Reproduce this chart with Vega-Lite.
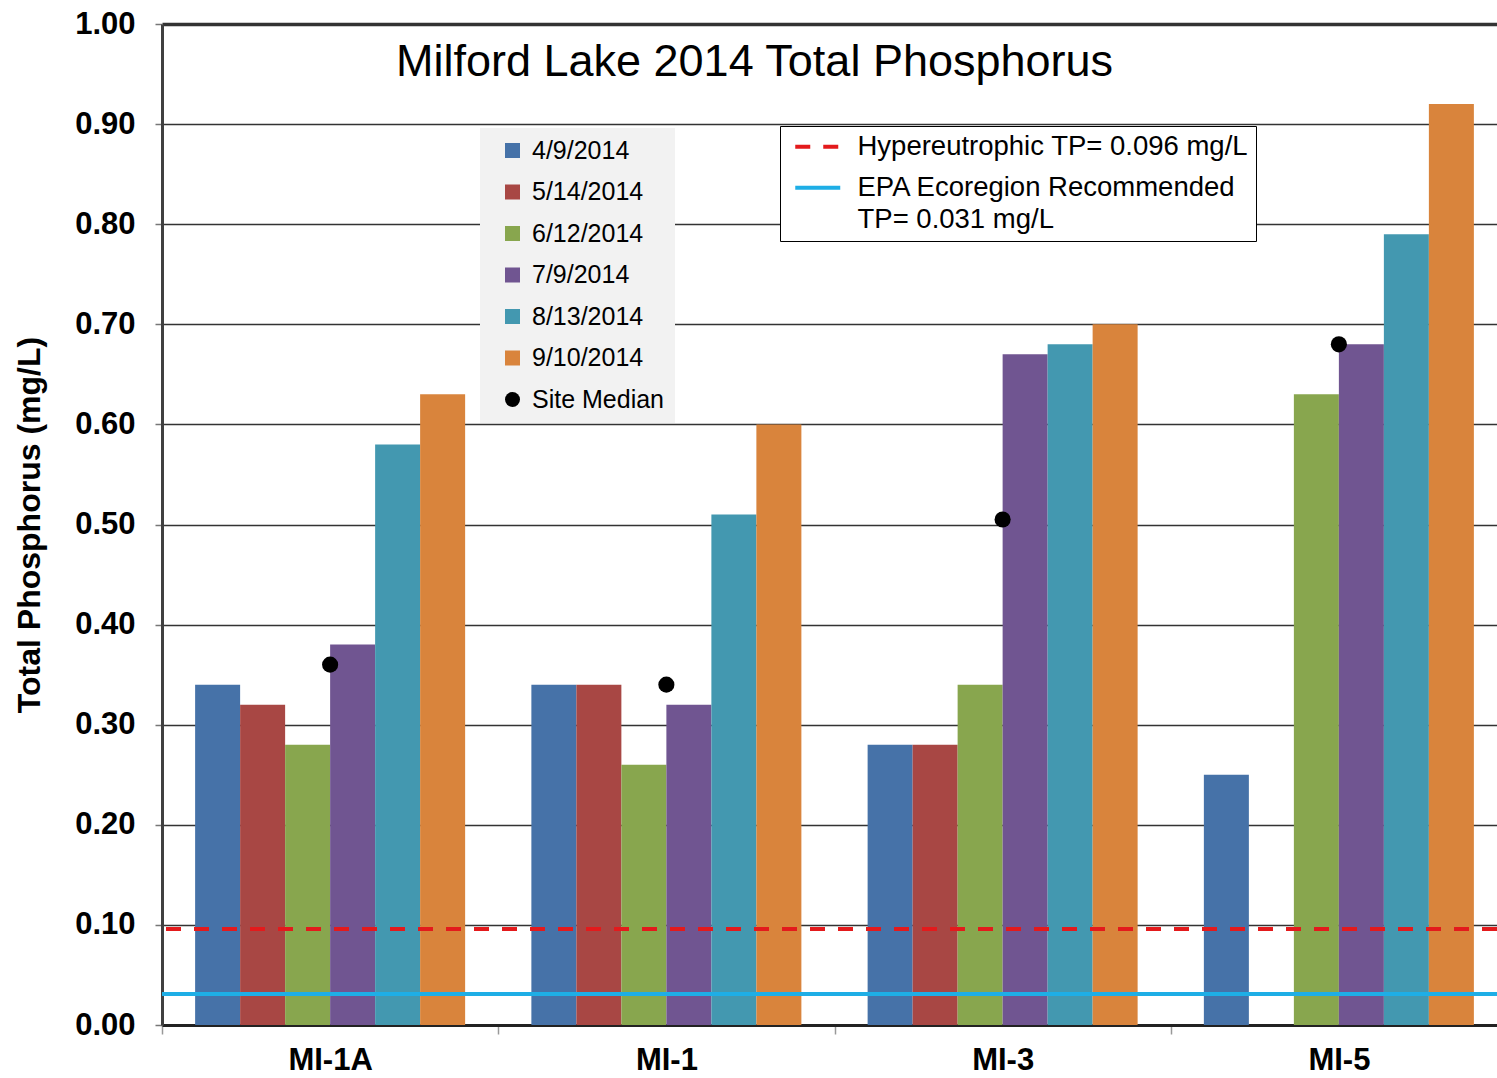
{
  "$schema": "https://vega.github.io/schema/vega-lite/v6.json",
  "width": 1335,
  "height": 1001,
  "autosize": {"type": "none"},
  "padding": {"left": 162, "top": 24, "right": 0, "bottom": 53},
  "background": "white",
  "config": {
    "font": "Liberation Sans",
    "view": {"stroke": null},
    "legend": {"labelFont": "Liberation Sans", "labelColor": "black"}
  },
  "title": {
    "text": "Milford Lake 2014 Total Phosphorus",
    "font": "Liberation Sans",
    "fontSize": 45,
    "fontWeight": "normal",
    "color": "black",
    "anchor": "middle",
    "frame": "group",
    "offset": -77,
    "dx": -75
  },
  "datasets": {
    "samples": [
      {"site": "MI-1A", "series": "4/9/2014", "tp": 0.34},
      {"site": "MI-1A", "series": "5/14/2014", "tp": 0.32},
      {"site": "MI-1A", "series": "6/12/2014", "tp": 0.28},
      {"site": "MI-1A", "series": "7/9/2014", "tp": 0.38},
      {"site": "MI-1A", "series": "8/13/2014", "tp": 0.58},
      {"site": "MI-1A", "series": "9/10/2014", "tp": 0.63},
      {"site": "MI-1", "series": "4/9/2014", "tp": 0.34},
      {"site": "MI-1", "series": "5/14/2014", "tp": 0.34},
      {"site": "MI-1", "series": "6/12/2014", "tp": 0.26},
      {"site": "MI-1", "series": "7/9/2014", "tp": 0.32},
      {"site": "MI-1", "series": "8/13/2014", "tp": 0.51},
      {"site": "MI-1", "series": "9/10/2014", "tp": 0.60},
      {"site": "MI-3", "series": "4/9/2014", "tp": 0.28},
      {"site": "MI-3", "series": "5/14/2014", "tp": 0.28},
      {"site": "MI-3", "series": "6/12/2014", "tp": 0.34},
      {"site": "MI-3", "series": "7/9/2014", "tp": 0.67},
      {"site": "MI-3", "series": "8/13/2014", "tp": 0.68},
      {"site": "MI-3", "series": "9/10/2014", "tp": 0.70},
      {"site": "MI-5", "series": "4/9/2014", "tp": 0.25},
      {"site": "MI-5", "series": "6/12/2014", "tp": 0.63},
      {"site": "MI-5", "series": "7/9/2014", "tp": 0.68},
      {"site": "MI-5", "series": "8/13/2014", "tp": 0.79},
      {"site": "MI-5", "series": "9/10/2014", "tp": 0.92}
    ],
    "medians": [
      {"site": "MI-1A", "series": "Site Median", "tp": 0.36},
      {"site": "MI-1", "series": "Site Median", "tp": 0.34},
      {"site": "MI-3", "series": "Site Median", "tp": 0.505},
      {"site": "MI-5", "series": "Site Median", "tp": 0.68}
    ],
    "criteria": [
      {"criterion": "Hypereutrophic TP= 0.096 mg/L", "tp": 0.096},
      {"criterion": "EPA Ecoregion Recommended TP= 0.031 mg/L", "tp": 0.031}
    ]
  },
  "layer": [
    {
      "data": {"name": "samples"},
      "mark": {"type": "bar"},
      "encoding": {
        "x": {
          "field": "site",
          "type": "nominal",
          "scale": {"domain": ["MI-1A", "MI-1", "MI-3", "MI-5"], "range": [0, 1345], "paddingInner": 0, "paddingOuter": 0},
          "axis": {
            "title": null,
            "labelAngle": 0,
            "labelFont": "Liberation Sans",
            "labelFontSize": 31,
            "labelFontWeight": "bold",
            "labelColor": "black",
            "labelPadding": 11,
            "tickBand": "extent",
            "tickSize": 9,
            "tickColor": "#999999",
            "tickWidth": 1.5,
            "domainColor": "#222222",
            "domainWidth": 3,
            "grid": false
          }
        },
        "xOffset": {
          "field": "series",
          "type": "nominal",
          "scale": {"domain": ["4/9/2014", "5/14/2014", "6/12/2014", "7/9/2014", "8/13/2014", "9/10/2014"], "paddingInner": 0, "paddingOuter": 0.736}
        },
        "y": {
          "field": "tp",
          "type": "quantitative",
          "scale": {"domain": [0, 1], "nice": false},
          "axis": {
            "values": [0, 0.1, 0.2, 0.3, 0.4, 0.5, 0.6, 0.7, 0.8, 0.9, 1.0],
            "format": ".2f",
            "title": "Total Phosphorus (mg/L)",
            "titleFont": "Liberation Sans",
            "titleFontSize": 32,
            "titleFontWeight": "bold",
            "titleColor": "black",
            "titlePadding": 28,
            "labelFont": "Liberation Sans",
            "labelFontSize": 31,
            "labelFontWeight": "bold",
            "labelColor": "black",
            "labelPadding": 20,
            "tickSize": 7,
            "tickColor": "#777777",
            "tickWidth": 1.5,
            "domainColor": "#404040",
            "domainWidth": 3,
            "grid": true,
            "gridColor": "#333333",
            "gridWidth": {"condition": {"test": "datum.value >= 1", "value": 3.5}, "value": 1.5}
          }
        },
        "color": {
          "field": "series",
          "type": "nominal",
          "scale": {
            "domain": ["4/9/2014", "5/14/2014", "6/12/2014", "7/9/2014", "8/13/2014", "9/10/2014", "Site Median"],
            "range": ["#4672A8", "#A84744", "#88A64E", "#705591", "#4398B0", "#D9843C", "#000000"]
          },
          "legend": {
            "orient": "none",
            "legendX": 318,
            "legendY": 104,
            "direction": "vertical",
            "title": null,
            "fillColor": "#f2f2f2",
            "padding": 10,
            "symbolSize": 225,
            "symbolOffset": 10,
            "symbolStrokeWidth": 0,
            "labelOffset": 7,
            "labelFontSize": 25,
            "labelLimit": 400,
            "rowPadding": 15.5
          }
        }
      }
    },
    {
      "data": {"name": "criteria"},
      "mark": {"type": "rule", "strokeWidth": 4},
      "encoding": {
        "y": {"field": "tp", "type": "quantitative"},
        "stroke": {
          "field": "criterion",
          "type": "nominal",
          "scale": {
            "domain": ["Hypereutrophic TP= 0.096 mg/L", "EPA Ecoregion Recommended TP= 0.031 mg/L"],
            "range": ["#E31A1C", "#1EAEE6"]
          },
          "legend": {
            "orient": "none",
            "legendX": 618,
            "legendY": 102,
            "direction": "vertical",
            "title": null,
            "fillColor": "white",
            "strokeColor": "black",
            "padding": 7,
            "gridAlign": "none",
            "symbolType": "M-3,0H3",
            "symbolSize": 225,
            "symbolStrokeWidth": 4,
            "symbolOffset": 17,
            "labelOffset": 26,
            "labelFontSize": 27.5,
            "labelLimit": 600,
            "rowPadding": 12,
            "labelExpr": "datum.value == 'EPA Ecoregion Recommended TP= 0.031 mg/L' ? ['EPA Ecoregion Recommended', 'TP= 0.031 mg/L'] : datum.label",
            "encode": {"labels": {"update": {"lineHeight": {"value": 32}}}}
          }
        },
        "strokeDash": {
          "field": "criterion",
          "type": "nominal",
          "scale": {
            "domain": ["Hypereutrophic TP= 0.096 mg/L", "EPA Ecoregion Recommended TP= 0.031 mg/L"],
            "range": [[15, 13], [1, 0]]
          },
          "legend": {
            "orient": "none",
            "legendX": 618,
            "legendY": 102,
            "direction": "vertical",
            "title": null,
            "fillColor": "white",
            "strokeColor": "black",
            "padding": 7,
            "gridAlign": "none",
            "symbolType": "M-3,0H3",
            "symbolSize": 225,
            "symbolStrokeWidth": 4,
            "symbolOffset": 17,
            "labelOffset": 26,
            "labelFontSize": 27.5,
            "labelLimit": 600,
            "rowPadding": 12,
            "labelExpr": "datum.value == 'EPA Ecoregion Recommended TP= 0.031 mg/L' ? ['EPA Ecoregion Recommended', 'TP= 0.031 mg/L'] : datum.label",
            "encode": {"labels": {"update": {"lineHeight": {"value": 32}}}}
          }
        }
      }
    },
    {
      "data": {"name": "medians"},
      "mark": {"type": "point", "filled": true, "size": 260, "opacity": 1},
      "encoding": {
        "x": {"field": "site", "type": "nominal"},
        "y": {"field": "tp", "type": "quantitative"},
        "color": {"field": "series", "type": "nominal"},
        "shape": {
          "field": "series",
          "type": "nominal",
          "scale": {
            "domain": ["4/9/2014", "5/14/2014", "6/12/2014", "7/9/2014", "8/13/2014", "9/10/2014", "Site Median"],
            "range": ["square", "square", "square", "square", "square", "square", "circle"]
          },
          "legend": {
            "orient": "none",
            "legendX": 318,
            "legendY": 104,
            "direction": "vertical",
            "title": null,
            "fillColor": "#f2f2f2",
            "padding": 10,
            "symbolSize": 225,
            "symbolOffset": 10,
            "symbolStrokeWidth": 0,
            "labelOffset": 7,
            "labelFontSize": 25,
            "labelLimit": 400,
            "rowPadding": 15.5
          }
        }
      }
    }
  ]
}
